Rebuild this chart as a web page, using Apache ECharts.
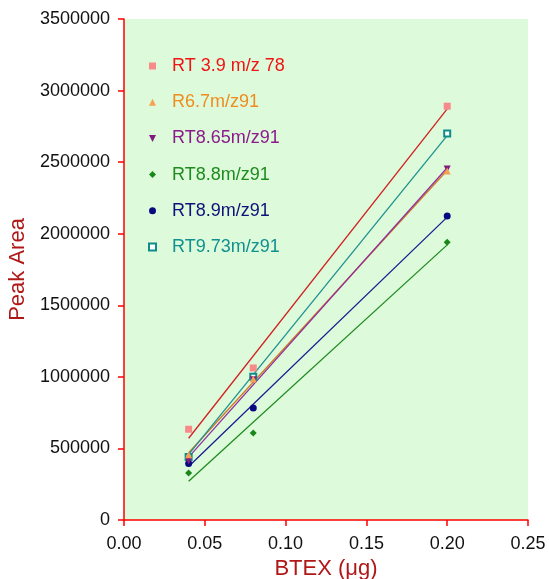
<!DOCTYPE html>
<html>
<head>
<meta charset="utf-8">
<script src="https://cdn.jsdelivr.net/npm/echarts@6/dist/echarts.min.js"></script>
<style>
html,body{margin:0;padding:0;background:#fff;}
#chart{width:549px;height:579px;}
</style>
</head>
<body>
<div id="chart"></div>
<script>
// Data
var xValues = [0.04, 0.08, 0.20];
var seriesNames = ['RT 3.9 m/z 78', 'R6.7m/z91', 'RT8.65m/z91', 'RT8.8m/z91', 'RT8.9m/z91', 'RT9.73m/z91'];
var rt39 = [634000, 1062000, 2891000];
var r67 = [455000, 985000, 2438000];
var rt865 = [413000, 980000, 2452000];
var rt88 = [329000, 607000, 1941000];
var rt89 = [394000, 782000, 2123000];
var rt973 = [440000, 1000000, 2700000];

// Linear fit line endpoints
var fitX = [0.04, 0.20];
var fit39 = [571000, 2872000];
var fit67 = [470000, 2443000];
var fit865 = [439000, 2461000];
var fit88 = [271000, 1922000];
var fit89 = [374000, 2116000];
var fit973 = [458000, 2685000];

var yTicks = [0, 500000, 1000000, 1500000, 2000000, 2500000, 3000000, 3500000];
var xTicks = [0.00, 0.05, 0.10, 0.15, 0.20, 0.25];

var values = [rt39, r67, rt865, rt88, rt89, rt973];
var fits = [fit39, fit67, fit865, fit88, fit89, fit973];
var symbols = ['rect', 'triangle', 'path://M0,0 L10,0 L5,10 Z', 'diamond', 'circle', 'emptyRect'];
var symbolColors = ['#f88a8a', '#f8a050', '#801c80', '#188818', '#0a0a80', '#108c8c'];
var textColors = ['#f01414', '#f08c1e', '#8b1a8b', '#1e8c1e', '#10107a', '#109090'];
var lineColors = ['#d02020', '#d07a20', '#9030a0', '#208a20', '#1a1a90', '#209090'];
var symbolSizes = [7, 7, 7, 7, 7, 6];
// drawing order of markers (bottom to top)
var drawOrder = [5, 4, 3, 2, 0, 1];

function pairs(xs, ys) {
  return ys.map(function (v, i) { return [xs[i], v]; });
}

var series = [];
fits.forEach(function (f, i) {
  series.push({
    name: seriesNames[i] + ' fit',
    type: 'line',
    data: pairs(fitX, f),
    symbol: 'none',
    silent: true,
    z: 2,
    lineStyle: { color: lineColors[i], width: 1.3 },
    animation: false
  });
});
drawOrder.forEach(function (i) {
  series.push({
    name: seriesNames[i],
    type: 'scatter',
    data: pairs(xValues, values[i]),
    symbol: symbols[i],
    symbolSize: symbolSizes[i],
    z: 3,
    itemStyle: { color: symbolColors[i], borderColor: symbolColors[i], borderWidth: i === 5 ? 1.3 : 0, opacity: 1 },
    animation: false
  });
});

var chart = echarts.init(document.getElementById('chart'), null, { renderer: 'canvas' });
chart.setOption({
  animation: false,
  backgroundColor: '#ffffff',
  textStyle: { fontFamily: 'Liberation Sans, Arial, sans-serif' },
  grid: {
    left: 124, right: 21, top: 19, bottom: 59,
    containLabel: false,
    outerBoundsMode: 'none',
    show: true, backgroundColor: '#ddfbdb', borderWidth: 0
  },
  legend: {
    orient: 'vertical',
    left: 148,
    top: 56,
    padding: 0,
    itemWidth: 7,
    itemHeight: 7,
    itemGap: 16.2,
    selectedMode: false,
    textStyle: { fontSize: 18, lineHeight: 20, padding: [0, 0, 0, 11], fontFamily: 'Liberation Sans, Arial, sans-serif' },
    data: seriesNames.map(function (n, i) {
      return {
        name: n,
        icon: symbols[i],
        itemStyle: { color: symbolColors[i], borderColor: symbolColors[i], borderWidth: i === 5 ? 1.2 : 0 },
        textStyle: { color: textColors[i] }
      };
    })
  },
  xAxis: {
    type: 'value',
    min: xTicks[0],
    max: xTicks[xTicks.length - 1],
    interval: 0.05,
    name: 'BTEX (\u03bcg)',
    nameLocation: 'middle',
    nameGap: 31,
    nameTextStyle: { color: '#b01818', fontSize: 22 },
    axisLine: { show: true, onZero: false, lineStyle: { color: '#ff0000', width: 1.5 } },
    axisTick: { show: true, inside: false, length: 6, lineStyle: { color: '#ff0000', width: 1.5 } },
    axisLabel: { color: '#111', fontSize: 18, margin: 15, formatter: function (v) { return v.toFixed(2); } },
    splitLine: { show: false }
  },
  yAxis: {
    type: 'value',
    min: yTicks[0],
    max: yTicks[yTicks.length - 1],
    interval: 500000,
    name: 'Peak Area',
    nameLocation: 'middle',
    nameGap: 94,
    nameTextStyle: { color: '#b01818', fontSize: 22 },
    axisLine: { show: true, onZero: false, lineStyle: { color: '#ff0000', width: 1.5 } },
    axisTick: { show: true, inside: false, length: 6, lineStyle: { color: '#ff0000', width: 1.5 } },
    axisLabel: { color: '#111', fontSize: 18, margin: 14, formatter: function (v) { return String(v); } },
    splitLine: { show: false }
  },
  series: series
});
</script>
</body>
</html>
